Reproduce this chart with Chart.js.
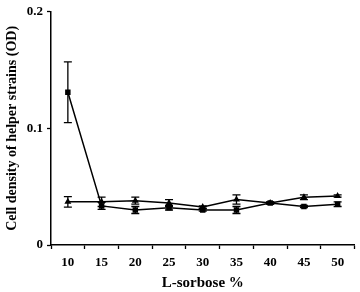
<!DOCTYPE html>
<html>
<head>
<meta charset="utf-8">
<script src="https://cdn.jsdelivr.net/npm/chart.js@4"></script>
<style>
    html, body { margin:0; padding:0; background:#fff; }
    #wrap { width:360px; height:292px; }
</style>
</head>
<body>
<div id="wrap"><canvas id="chart"></canvas></div>
<script>
// ================= DATA =================
const sorbose = ["10","15","20","25","30","35","40","45","50"];

// series with square markers
const squareVals = [0.131, 0.0335, 0.030, 0.032, 0.030, 0.030, 0.036, 0.033, 0.035];
const squareErr  = [0.026, 0.003, 0.003, 0.002, 0.001, 0.003, 0.001, 0.001, 0.002];

// series with triangle markers
const triVals = [0.037, 0.037, 0.038, 0.036, 0.0325, 0.039, 0.036, 0.041, 0.042];
const triErr  = [0.0045, 0.004, 0.003, 0.003, 0.001, 0.004, 0.001, 0.002, 0.001];

const yTicks = [0, 0.1, 0.2];

const serif = "'Liberation Serif', 'Times New Roman', serif";

// ================= ERROR BARS =================
const errorBars = {
    id:"errorBars",
    afterDatasetsDraw(chart){
        const ctx = chart.ctx;
        const y = chart.scales.y;
        chart.data.datasets.forEach((ds, i)=>{
            const meta = chart.getDatasetMeta(i);
            ctx.save();
            ctx.strokeStyle = "#000";
            ctx.lineWidth = 1.3;
            meta.data.forEach((pt, j)=>{
                const e = ds.errors[j];
                if(!e) return;
                const top = y.getPixelForValue(ds.data[j] + e);
                const bot = y.getPixelForValue(ds.data[j] - e);
                ctx.beginPath();
                ctx.moveTo(pt.x, top); ctx.lineTo(pt.x, bot);
                ctx.moveTo(pt.x-4, top); ctx.lineTo(pt.x+4, top);
                ctx.moveTo(pt.x-4, bot); ctx.lineTo(pt.x+4, bot);
                ctx.stroke();
            });
            ctx.restore();
        });
    }
};

// ================= CHART =================
new Chart(document.getElementById("chart"),{
    type:"line",
    data:{
        labels: sorbose,
        datasets:[
            {data:squareVals, errors:squareErr, borderColor:"#000", backgroundColor:"#000",
             borderWidth:1.5, pointStyle:"rect", pointRadius:2.8, tension:0},
            {data:triVals, errors:triErr, borderColor:"#000", backgroundColor:"#000",
             borderWidth:1.5, pointStyle:"triangle", pointRadius:2.5, tension:0}
        ]
    },
    options:{
        responsive:true,
        maintainAspectRatio:false,
        animation:false,
        layout:{padding:{top:0, right:3, left:0, bottom:0}},
        plugins:{legend:{display:false}, tooltip:{enabled:false}},
        scales:{
            x:{
                offset:true,
                grid:{offset:true, drawOnChartArea:false, color:"#000", tickLength:4, tickWidth:1.3},
                border:{color:"#000", width:1.5},
                ticks:{color:"#000", font:{family:serif, size:13, weight:"bold"}, padding:6, maxRotation:0},
                title:{display:true, text:"L-sorbose %", color:"#000",
                       font:{family:serif, size:15, weight:"bold"}, padding:{top:0, bottom:0}},
                afterFit(s){ s.height = 47; }
            },
            y:{
                min:0, max:0.2,
                afterBuildTicks(s){ s.ticks = yTicks.map(v=>({value:v})); },
                grid:{drawOnChartArea:false, color:"#000", tickLength:4, tickWidth:1.3},
                border:{color:"#000", width:1.5},
                ticks:{color:"#000", font:{family:serif, size:13, weight:"bold"}, padding:4,
                       callback:v=>String(v)},
                title:{display:true, text:"Cell density of helper strains (OD)", color:"#000",
                       font:{family:serif, size:14, weight:"bold"}, padding:{top:4, bottom:4}},
                afterFit(s){ s.width = 51; }
            }
        }
    },
    plugins:[errorBars]
});
</script>
</body>
</html>
